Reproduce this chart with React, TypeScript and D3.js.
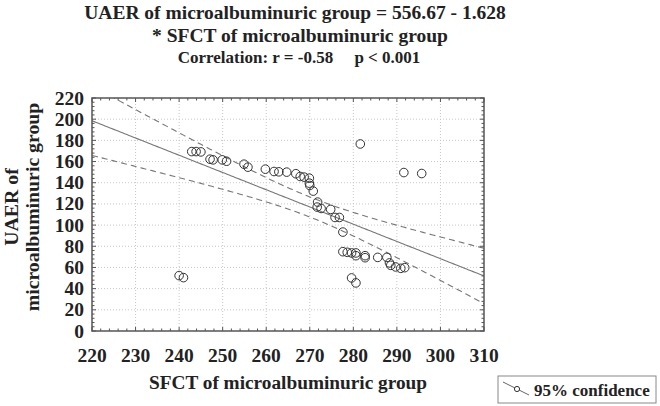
import React from 'react';
import * as d3 from 'd3';

const sfct = [240.0, 241.0, 242.9, 243.9, 245.0, 247.1, 247.8, 249.9, 250.9, 254.9, 255.8, 259.8, 261.8, 262.9, 264.7, 266.8, 267.8, 268.7, 269.9, 269.9, 270.0, 270.8, 271.8, 271.7, 272.6, 274.8, 275.8, 276.8, 277.6, 277.6, 278.6, 279.6, 280.6, 280.6, 282.7, 282.7, 285.6, 287.7, 288.3, 288.6, 289.7, 290.9, 291.8, 279.6, 280.6, 281.6, 291.6, 295.7];
const uaer = [52.3, 50.4, 169.4, 169.4, 169.1, 162.2, 161.6, 161.6, 160.3, 157.5, 154.7, 152.8, 150.6, 150.3, 150.0, 148.5, 145.9, 145.3, 144.3, 139.6, 137.4, 132.1, 121.7, 117.0, 115.7, 114.8, 107.2, 107.2, 93.4, 74.9, 74.3, 73.7, 73.7, 71.1, 71.1, 69.2, 69.5, 69.5, 64.3, 62.0, 60.5, 59.2, 59.8, 50.1, 45.4, 176.6, 149.6, 148.7];

const xTicks = [220, 230, 240, 250, 260, 270, 280, 290, 300, 310];
const yTicks = [0, 20, 40, 60, 80, 100, 120, 140, 160, 180, 200, 220];
const intercept = 556.67;
const slope = -1.628;
const tCrit = 1.76;

const titleLines = [
  'UAER of microalbuminuric group = 556.67 - 1.628',
  '* SFCT of microalbuminuric group',
];
const subtitle = 'Correlation: r = -0.58     p < 0.001';
const xTitle = 'SFCT of microalbuminuric group';
const yTitle = ['UAER of', 'microalbuminuric group'];
const legendLabel = '95% confidence';

const FONT = '"Liberation Serif", "Times New Roman", serif';

export default function App() {
  const W = 660, H = 406;
  const L = 92, R = 484, T = 98, B = 331;
  const x = d3.scaleLinear().domain([220, 310]).range([L, R]);
  const y = d3.scaleLinear().domain([0, 220]).range([B, T]);

  const n = sfct.length;
  const xbar = d3.mean(sfct) as number;
  const Sxx = d3.sum(sfct, (v) => (v - xbar) ** 2);
  const sse = d3.sum(sfct, (v, i) => (uaer[i] - (intercept + slope * v)) ** 2);
  const s = Math.sqrt(sse / (n - 2));
  const xs = d3.range(220, 310.01, 0.5);
  const half = (v: number) => tCrit * s * Math.sqrt(1 / n + (v - xbar) ** 2 / Sxx);
  const fit = (v: number) => intercept + slope * v;

  const mainPath = d3.line<number>().x((v) => x(v)).y((v) => y(fit(v)))(xs) as string;
  const upPath = d3.line<number>().x((v) => x(v)).y((v) => y(fit(v) + half(v)))(xs) as string;
  const loPath = d3.line<number>().x((v) => x(v)).y((v) => y(fit(v) - half(v)))(xs) as string;

  const xMinor = d3.range(220, 310.01, 2);
  const yMinor = d3.range(0, 220.01, 4);

  return (
    <svg width={W} height={H} style={{ position: 'absolute', left: 0, top: 0, background: '#fff' }} fontFamily={FONT}>
      <defs>
        <clipPath id="plotclip">
          <rect x={L} y={T} width={R - L} height={B - T} />
        </clipPath>
      </defs>
      <rect x={0} y={0} width={W} height={H} fill="#fff" />
      {/* titles */}
      <text x={295} y={19} textAnchor="middle" fontSize={19.5} fontWeight="bold" fill="#222">{titleLines[0]}</text>
      <text x={300} y={42} textAnchor="middle" fontSize={19.5} fontWeight="bold" fill="#222">{titleLines[1]}</text>
      <text x={299} y={63} textAnchor="middle" fontSize={17} fontWeight="bold" fill="#222" style={{ whiteSpace: 'pre' }}>{subtitle}</text>

      {/* grid */}
      <g stroke="#c8c8c8" strokeWidth={1} strokeDasharray="1,2">
        {xTicks.slice(1, -1).map((t) => (
          <line key={'gx' + t} x1={x(t)} x2={x(t)} y1={T} y2={B} />
        ))}
        {yTicks.slice(1, -1).map((t) => (
          <line key={'gy' + t} x1={L} x2={R} y1={y(t)} y2={y(t)} />
        ))}
      </g>

      {/* regression lines */}
      <g clipPath="url(#plotclip)" fill="none" stroke="#777">
        <path d={mainPath} strokeWidth={1.1} />
        <path d={upPath} strokeWidth={1.1} strokeDasharray="6,4" />
        <path d={loPath} strokeWidth={1.1} strokeDasharray="6,4" />
      </g>

      {/* points */}
      <g fill="none" stroke="#333" strokeWidth={1}>
        {sfct.map((v, i) => (
          <circle key={i} cx={x(v)} cy={y(uaer[i])} r={4.3} />
        ))}
      </g>

      {/* frame and ticks */}
      <g stroke="#555" strokeWidth={1}>
        {xMinor.map((t) => {
          const major = xTicks.includes(Math.round(t));
          const len = major ? 4 : 2.5;
          return (
            <g key={'tx' + t}>
              <line x1={x(t)} x2={x(t)} y1={B} y2={B - len} />
              <line x1={x(t)} x2={x(t)} y1={T} y2={T + len} />
            </g>
          );
        })}
        {yMinor.map((t) => {
          const major = yTicks.includes(Math.round(t));
          const len = major ? 4 : 2.5;
          return (
            <g key={'ty' + t}>
              <line x1={L} x2={L + len} y1={y(t)} y2={y(t)} />
              <line x1={R} x2={R - len} y1={y(t)} y2={y(t)} />
            </g>
          );
        })}
      </g>
      <rect x={L} y={T} width={R - L} height={B - T} fill="none" stroke="#555" strokeWidth={1.5} />

      {/* tick labels */}
      <g fontSize={19.5} fontWeight="bold" fill="#222">
        {xTicks.map((t) => (
          <text key={'lx' + t} x={x(t)} y={362} textAnchor="middle">{t}</text>
        ))}
        {yTicks.map((t) => (
          <text key={'ly' + t} x={84} y={y(t) + 6.5} textAnchor="end">{t}</text>
        ))}
      </g>

      {/* axis titles */}
      <text x={288} y={389} textAnchor="middle" fontSize={19.3} fontWeight="bold" fill="#222">{xTitle}</text>
      <g transform="translate(0,207) rotate(-90)" fontSize={19.8} fontWeight="bold" fill="#222">
        <text x={0} y={18} textAnchor="middle">{yTitle[0]}</text>
        <text x={0} y={39} textAnchor="middle">{yTitle[1]}</text>
      </g>

      {/* legend */}
      <rect x={498} y={376} width={158} height={27} fill="#fff" stroke="#888" strokeWidth={1} />
      <line x1={503} y1={382} x2={529} y2={395} stroke="#666" strokeWidth={1} />
      <circle cx={517} cy={389} r={2.6} fill="#fff" stroke="#333" strokeWidth={1} />
      <text x={534} y={396} fontSize={17} fontWeight="bold" fill="#222">{legendLabel}</text>
    </svg>
  );
}
